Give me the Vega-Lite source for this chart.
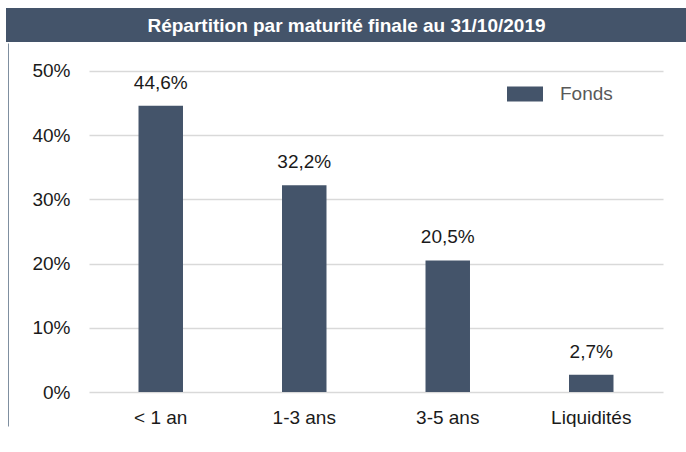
{
  "$schema": "https://vega.github.io/schema/vega-lite/v6.json",
  "background": "white",
  "padding": {"left": 5, "top": 8, "right": 0, "bottom": 0},
  "autosize": {"type": "pad"},
  "config": {
    "locale": {"number": {"decimal": ",", "thousands": " ", "grouping": [3], "currency": ["", " €"]}},
    "view": {"stroke": null},
    "font": "Liberation Sans"
  },
  "datasets": {
    "fonds": [
      {"maturite": "< 1 an", "part": 0.446, "serie": "Fonds"},
      {"maturite": "1-3 ans", "part": 0.322, "serie": "Fonds"},
      {"maturite": "3-5 ans", "part": 0.205, "serie": "Fonds"},
      {"maturite": "Liquidités", "part": 0.027, "serie": "Fonds"}
    ]
  },
  "spacing": 0,
  "vconcat": [
    {
      "width": 681,
      "height": 34,
      "view": {"fill": "#44546a", "stroke": null},
      "data": {"values": [{"titre": "Répartition par maturité finale au 31/10/2019"}]},
      "mark": {"type": "text", "color": "white", "fontWeight": "bold", "fontSize": 19, "baseline": "middle", "align": "center", "dy": 1},
      "encoding": {"text": {"field": "titre", "type": "nominal"}}
    },
    {
      "spacing": 22,
      "hconcat": [
        {
          "width": 2,
          "height": 383,
          "view": {"stroke": "#7f8fa0", "strokeWidth": 1, "strokeDash": [0, 2, 383, 385], "fill": null},
          "data": {"values": []},
          "mark": "point",
          "encoding": {}
        },
        {
          "width": 574,
          "height": 349,
          "data": {"name": "fonds"},
          "encoding": {
            "x": {
              "field": "maturite",
              "type": "nominal",
              "sort": null,
              "scale": {"paddingInner": 0.69, "paddingOuter": 0.345},
              "axis": {"title": null, "domain": false, "ticks": false, "tickSize": 0, "labelAngle": 0, "labelFontSize": 19, "labelColor": "#1a1a1a", "labelPadding": 16}
            }
          },
          "layer": [
            {
              "mark": {"type": "bar"},
              "encoding": {
                "y": {
                  "field": "part",
                  "type": "quantitative",
                  "scale": {"domain": [0, 0.5436], "nice": false},
                  "axis": {"title": null, "values": [0, 0.1, 0.2, 0.3, 0.4, 0.5], "format": ".0%", "domain": false, "ticks": false, "tickSize": 0, "labelFontSize": 19, "labelColor": "#1a1a1a", "labelPadding": 19, "gridColor": "#d9d9d9", "gridWidth": 1.5}
                },
                "color": {
                  "field": "serie",
                  "type": "nominal",
                  "scale": {"range": ["#44546a"]},
                  "legend": {"title": null, "orient": "none", "legendX": 501, "legendY": 68, "symbolType": "M-1,-0.42H1V0.42H-1Z", "symbolSize": 1296, "symbolStrokeWidth": 0, "symbolOpacity": 1, "labelFontSize": 19, "labelColor": "#595959", "labelOffset": 17, "padding": 0}
                }
              }
            },
            {
              "mark": {"type": "text", "baseline": "alphabetic", "dy": -17, "fontSize": 19, "color": "#1a1a1a"},
              "encoding": {
                "y": {"field": "part", "type": "quantitative"},
                "text": {"field": "part", "type": "quantitative", "format": ".1%"}
              }
            }
          ]
        }
      ]
    }
  ]
}
